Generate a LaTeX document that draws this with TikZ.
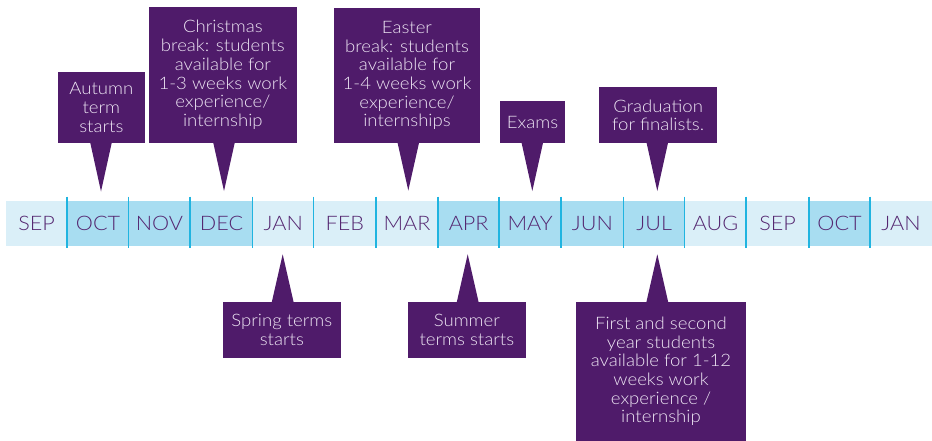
\documentclass[tikz,border=0pt]{standalone}
\usepackage{fontspec}
\setmainfont{Lato Light}[FakeStretch=1.08]
\usetikzlibrary{calc}
\definecolor{boxc}{RGB}{79,27,106}
\definecolor{boxtxt}{RGB}{238,230,244}
\definecolor{monthtxt}{RGB}{84,38,112}
\definecolor{lightc}{RGB}{218,239,248}
\definecolor{darkc}{RGB}{168,221,241}
\definecolor{divc}{RGB}{32,180,224}
\tikzset{
  callout/.style={fill=boxc,text=boxtxt,inner sep=0pt,align=center,
    font=\fontsize{17.2}{18.7}\selectfont},
  cell/.style={inner sep=0pt,minimum height=45pt,text=monthtxt,
    font=\fontsize{20}{22}\selectfont},
  divider/.style={draw=divc,line width=1.6pt},
  pointer/.style={fill=boxc}
}
\begin{document}
\begin{tikzpicture}[x=1pt,y=-1pt]
\useasboundingbox (0,0) rectangle (932,441);
% month cells
\foreach \a/\b/\m/\c/\n in {6/67.3/SEP/lightc/c1,67.3/128.7/OCT/darkc/c2,128.7/190.3/NOV/darkc/c3,190.3/252.7/DEC/darkc/c4,252.7/313.7/JAN/lightc/c5,313.7/376/FEB/lightc/c6,376/438/MAR/lightc/c7,438/499.3/APR/darkc/c8,499.3/561/MAY/darkc/c9,561/623.7/JUN/darkc/c10,623.7/684.7/JUL/darkc/c11,684.7/746.3/AUG/lightc/c12,746.3/809/SEP/lightc/c13,809/870/OCT/darkc/c14,870/932/JAN/lightc/c15}{
  \pgfmathsetmacro{\w}{\b-\a}
  \pgfmathsetmacro{\mx}{(\a+\b)/2}
  \node[cell,fill=\c,minimum width=\w pt] (\n) at (\mx,223.3) {\m};
}
\foreach \n in {c2,c3,c4,c5,c6,c7,c8,c9,c10,c11,c12,c13,c14,c15}{
  \draw[divider] ($(\n.north west)+(0,-4)$) -- ($(\n.south west)+(0,2)$);
}
% top callouts
\node[callout,minimum width=87.3pt,minimum height=71.6pt] (aut) at (101.35,107.5) {Autumn\\term\\starts};
\node[callout,minimum width=147.7pt,minimum height=136.6pt] (chr) at (222.85,75) {Christmas\\break: students\\available for\\1-3 weeks work\\experience/\\internship};
\node[callout,minimum width=146pt,minimum height=135.3pt] (eas) at (407,75.65) {Easter\\break: students\\available for\\1-4 weeks work\\experience/\\internships};
\node[callout,minimum width=65pt,minimum height=42.3pt] (exa) at (532.5,122.15) {Exams};
\node[callout,minimum width=118.3pt,minimum height=56pt] (gra) at (658.15,115.3) {Graduation\\for finalists.};
% bottom callouts
\node[callout,minimum width=118.3pt,minimum height=56pt] (spr) at (281.85,329.7) {Spring terms\\starts};
\node[callout,minimum width=117.7pt,minimum height=56pt] (sum) at (466.85,329.7) {Summer\\terms starts};
\node[callout,minimum width=170pt,minimum height=139.3pt] (fir) at (661,371.35) {First and second\\year students\\available for 1-12\\weeks work\\experience /\\internship};
% pointer tips
\coordinate (tA) at (101,191.5);
\coordinate (tC) at (224,191);
\coordinate (tE) at (408.3,190.5);
\coordinate (tX) at (532.3,191);
\coordinate (tG) at (657.3,191);
\coordinate (tS) at (282.7,254.3);
\coordinate (tU) at (467.7,254.3);
\coordinate (tF) at (657.3,254.3);
\foreach \bx/\t in {aut/tA,chr/tC,eas/tE,exa/tX,gra/tG}{
  \fill[pointer] ($(\bx.south -| \t)+(-10.8,-1)$) -- (\t) -- ($(\bx.south -| \t)+(10.8,-1)$) -- cycle;
}
\foreach \bx/\t in {spr/tS,sum/tU,fir/tF}{
  \fill[pointer] ($(\bx.north -| \t)+(-11,1)$) -- (\t) -- ($(\bx.north -| \t)+(11,1)$) -- cycle;
}
\end{tikzpicture}
\end{document}
